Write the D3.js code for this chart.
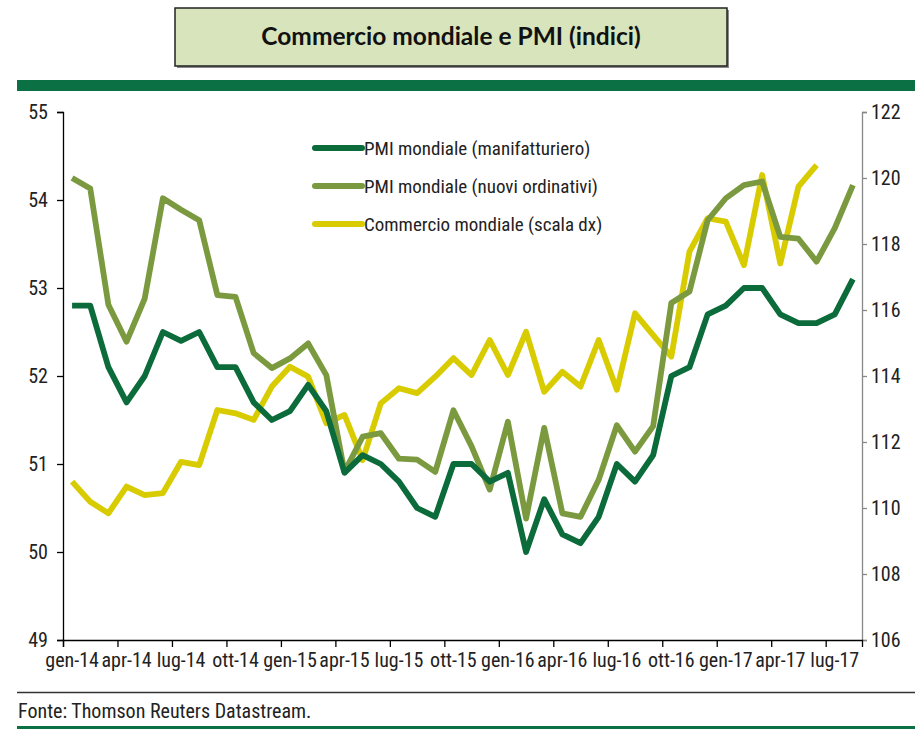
<!DOCTYPE html>
<html>
<head>
<meta charset="utf-8">
<script src="https://cdn.jsdelivr.net/npm/d3@7/dist/d3.min.js"></script>
<style>
  html, body { margin: 0; padding: 0; background: #fff; }
  svg { display: block; }
</style>
</head>
<body>
<svg id="chart" width="915" height="729"></svg>
<script>
// ---------- data ----------
const monthNames = ["gen","feb","mar","apr","mag","giu","lug","ago","set","ott","nov","dic"];
const years = ["14","15","16","17"];
const categories = [];
years.forEach(y => monthNames.forEach(m => categories.push(m + "-" + y)));
categories.splice(44); // gen-14 ... ago-17

const pmiManifatturiero = [
  52.8, 52.8, 52.1, 51.7, 52.0, 52.5, 52.4, 52.5, 52.1, 52.1, 51.7, 51.5,
  51.6, 51.9, 51.6, 50.9, 51.1, 51.0, 50.8, 50.5, 50.4, 51.0, 51.0, 50.8,
  50.9, 50.0, 50.6, 50.2, 50.1, 50.4, 51.0, 50.8, 51.1, 52.0, 52.1, 52.7,
  52.8, 53.0, 53.0, 52.7, 52.6, 52.6, 52.7, 53.1
];
const pmiNuoviOrdinativi = [
  54.25, 54.13, 52.81, 52.39, 52.88, 54.02, 53.89, 53.77, 52.92, 52.90, 52.26, 52.09,
  52.20, 52.37, 52.01, 50.91, 51.31, 51.35, 51.06, 51.05, 50.91, 51.61, 51.20, 50.71,
  51.48, 50.38, 51.41, 50.44, 50.40, 50.82, 51.44, 51.14, 51.43, 52.83, 52.96, 53.77,
  54.02, 54.17, 54.21, 53.58, 53.56, 53.30, 53.68, 54.17
];
const commercioMondiale = [
  110.80, 110.19, 109.84, 110.65, 110.39, 110.45, 111.40, 111.30, 112.97, 112.87, 112.67, 113.68,
  114.28, 113.98, 112.57, 112.82, 111.45, 113.17, 113.63, 113.48, 113.98, 114.54, 114.03, 115.09,
  114.03, 115.34, 113.52, 114.13, 113.68, 115.09, 113.58, 115.90, 115.24, 114.59, 117.77, 118.78,
  118.68, 117.36, 120.09, 117.41, 119.74, 120.39
];
const leftTicks = [49, 50, 51, 52, 53, 54, 55];
const rightTicks = [106, 108, 110, 112, 114, 116, 118, 120, 122];
const xLabelEvery = 3;
const seriesNames = [
  "PMI mondiale (manifatturiero)",
  "PMI mondiale (nuovi ordinativi)",
  "Commercio mondiale (scala dx)"
];
const seriesColors = ["#0c6b3a", "#7b9a3f", "#d8cc00"];
const titleText = "Commercio mondiale e PMI (indici)";
const sourceText = "Fonte: Thomson Reuters Datastream.";

// ---------- layout ----------
const svg = d3.select("#chart");
const plot = { left: 63, right: 862, top: 112, bottom: 640 };
const narrowFont = '"Liberation Sans Narrow", "Arial Narrow", "Roboto Condensed", "Liberation Sans", sans-serif';

// title box
svg.append("rect").attr("x", 177).attr("y", 10).attr("width", 552).attr("height", 58)
  .attr("fill", "#8a8a8a");
svg.append("rect").attr("x", 175).attr("y", 8).attr("width", 552).attr("height", 58)
  .attr("fill", "#d8e4bc").attr("stroke", "#222").attr("stroke-width", 1.5);
svg.append("text").attr("x", 451).attr("y", 45).attr("text-anchor", "middle")
  .attr("font-family", "Lato, 'Open Sans', sans-serif").attr("font-weight", "bold")
  .attr("font-size", 24.5).attr("fill", "#111").text(titleText);

// green band
svg.append("rect").attr("x", 17).attr("y", 80).attr("width", 898).attr("height", 11).attr("fill", "#0b7043");

// scales
const x = d3.scaleBand().domain(categories).range([plot.left, plot.right]).paddingInner(0).paddingOuter(0);
const xi = d3.scaleLinear().domain([0, categories.length]).range([plot.left, plot.right]);
const yL = d3.scaleLinear().domain([49, 55]).range([plot.bottom, plot.top]);
const yR = d3.scaleLinear().domain([106, 122]).range([plot.bottom, plot.top]);
const cx = d => x(d) + x.bandwidth() / 2;

// left axis
const gL = svg.append("g").attr("transform", `translate(${plot.left},0)`)
  .call(d3.axisLeft(yL).tickValues(leftTicks).tickSize(6).tickPadding(9).tickFormat(d3.format("d")));
gL.select(".domain").attr("stroke", "#000").attr("stroke-width", 1.3);
gL.selectAll(".tick line").attr("stroke", "#000").attr("stroke-width", 1.3);
gL.selectAll("text").attr("font-family", narrowFont).attr("font-size", 20).attr("fill", "#222");

// right axis
const gR = svg.append("g").attr("transform", `translate(${plot.right},0)`)
  .call(d3.axisRight(yR).tickValues(rightTicks).tickSize(5).tickPadding(4).tickFormat(d3.format("d")));
gR.select(".domain").attr("stroke", "#888").attr("stroke-width", 1.3);
gR.selectAll(".tick line").attr("stroke", "#888").attr("stroke-width", 1.3);
gR.selectAll("text").attr("font-family", narrowFont).attr("font-size", 20).attr("fill", "#222");

// bottom axis: tick marks at category boundaries
const gB = svg.append("g").attr("transform", `translate(0,${plot.bottom})`)
  .call(d3.axisBottom(xi).tickValues(d3.range(0, categories.length, xLabelEvery)).tickSize(7).tickFormat(""));
gB.select(".domain").attr("stroke", "#000").attr("stroke-width", 1.3);
gB.selectAll(".tick line").attr("stroke", "#000").attr("stroke-width", 1.3);
// labels at category centres
const gBL = svg.append("g").attr("transform", `translate(0,${plot.bottom})`)
  .call(d3.axisBottom(x).tickValues(categories.filter((d, i) => i % xLabelEvery === 0)).tickSize(0).tickPadding(13));
gBL.select(".domain").remove();
gBL.selectAll("text").attr("font-family", narrowFont).attr("font-size", 20).attr("fill", "#222");

// lines
const lineL = d3.line().x((d, i) => cx(categories[i])).y(d => yL(d));
const lineR = d3.line().x((d, i) => cx(categories[i])).y(d => yR(d));
const drawLine = (data, gen, color) => svg.append("path").datum(data).attr("d", gen)
  .attr("fill", "none").attr("stroke", color).attr("stroke-width", 5.8)
  .attr("stroke-linejoin", "round").attr("stroke-linecap", "butt");
drawLine(commercioMondiale, lineR, seriesColors[2]);
drawLine(pmiNuoviOrdinativi, lineL, seriesColors[1]);
drawLine(pmiManifatturiero, lineL, seriesColors[0]);

// legend
const legend = svg.append("g");
seriesNames.forEach((name, i) => {
  const y = 148 + i * 38;
  legend.append("line").attr("x1", 315).attr("x2", 362).attr("y1", y).attr("y2", y)
    .attr("stroke", seriesColors[i]).attr("stroke-width", 6).attr("stroke-linecap", "round");
  legend.append("text").attr("x", 364).attr("y", y + 7)
    .attr("font-family", narrowFont).attr("font-size", 19).attr("fill", "#222").text(name);
});

// footer
svg.append("line").attr("x1", 17).attr("x2", 915).attr("y1", 692.5).attr("y2", 692.5)
  .attr("stroke", "#333").attr("stroke-width", 1.5);
svg.append("text").attr("x", 18).attr("y", 718).attr("font-family", narrowFont)
  .attr("font-size", 20).attr("fill", "#222").text(sourceText);
svg.append("rect").attr("x", 17).attr("y", 726).attr("width", 898).attr("height", 3).attr("fill", "#0b7043");
</script>
</body>
</html>
